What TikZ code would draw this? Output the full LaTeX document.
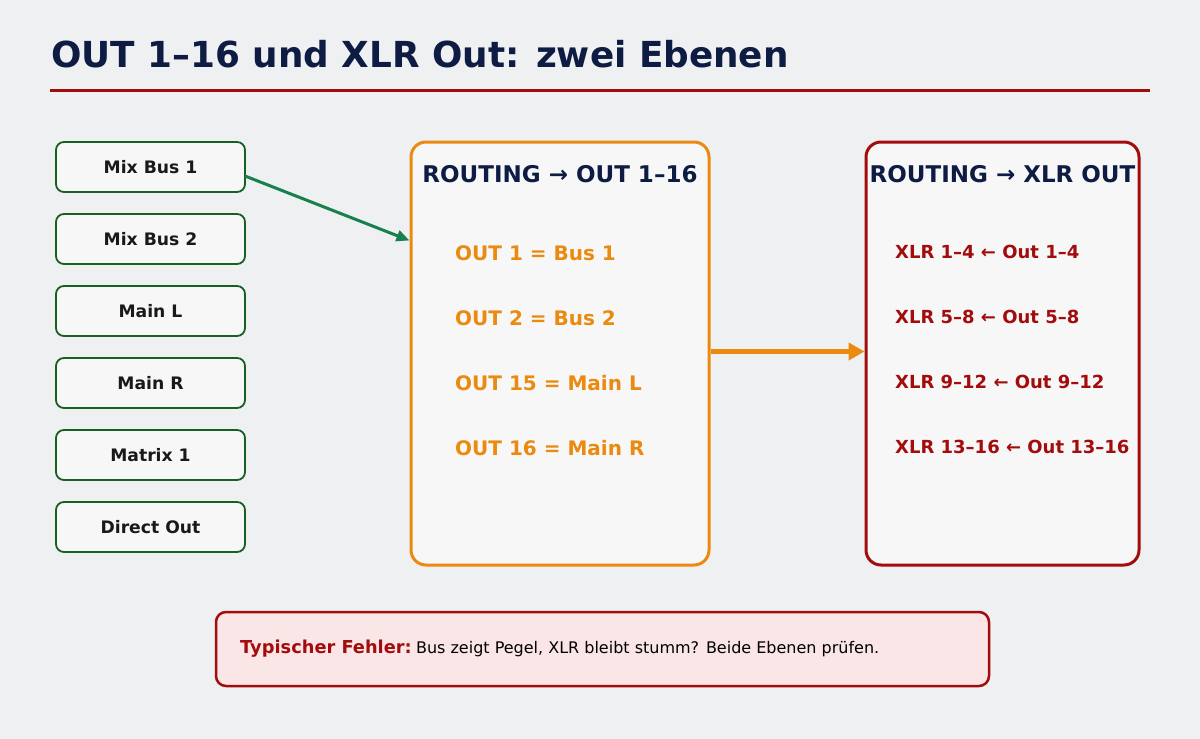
\documentclass[tikz,border=0pt]{standalone}
\usepackage{fontspec}
\setmainfont{DejaVu Sans}
\usetikzlibrary{arrows.meta,positioning}
\definecolor{pagebg}{RGB}{238,240,242}
\definecolor{titlenavy}{RGB}{14,28,68}
\definecolor{xlrred}{RGB}{163,12,12}
\definecolor{busgreen}{RGB}{22,96,34}
\definecolor{feedgreen}{RGB}{24,128,78}
\definecolor{routeorange}{RGB}{234,138,14}
\definecolor{panelfill}{RGB}{247,247,248}
\definecolor{warnfill}{RGB}{250,230,230}

\begin{document}
\begin{tikzpicture}[
  x=1pt,y=-1pt,
  node distance=22pt,
  busbox/.style={draw=busgreen,line width=1.8pt,fill=panelfill,rounded corners=8pt,
    minimum width=189pt,minimum height=50pt,inner sep=0pt,outer sep=0pt,
    font=\fontsize{17.2}{19}\bfseries,text=black!90},
  panel/.style={fill=panelfill,line width=3pt,rounded corners=15pt,
    minimum height=423pt,inner sep=0pt},
  head/.style={anchor=base,text=titlenavy,font=\fontsize{23}{26}\bfseries},
  outline/.style={anchor=west,inner sep=0pt,text=routeorange,font=\fontsize{20}{22}\bfseries},
  xlrline/.style={anchor=west,inner sep=0pt,text=xlrred,font=\fontsize{18}{20}\bfseries},
  feed/.style={-{Triangle[length=13pt,width=11pt]},draw=feedgreen,line width=3pt},
  pass/.style={-{Triangle[length=16pt,width=17pt]},draw=routeorange,line width=5pt}
]
  \fill[pagebg] (0,0) rectangle (1200,739);
  \useasboundingbox (0,0) rectangle (1200,739);

  \node[anchor=base west,inner sep=0pt,text=titlenavy,font=\fontsize{35.8}{40}\bfseries] (title) at (51,67) {OUT 1–16 und XLR Out: zwei Ebenen};
  \coordinate (rulel) at (50,90);
  \coordinate (ruler) at (1150,90);
  \draw[xlrred,line width=3pt] (rulel) -- (ruler);

  \node[busbox] (mb1) at (150.5,167) {Mix Bus 1};
  \node[busbox,below=of mb1] (mb2) {Mix Bus 2};
  \node[busbox,below=of mb2] (mainl) {Main L};
  \node[busbox,below=of mainl] (mainr) {Main R};
  \node[busbox,below=of mainr] (mtx) {Matrix 1};
  \node[busbox,below=of mtx] (direct) {Direct Out};

  \node[panel,draw=routeorange,minimum width=298pt] (route) at (560,353.5) {};
  \node[head] (routehd) at (560,182) {ROUTING → OUT 1–16};
  \node[outline] (o1) at (455,253) {OUT 1 = Bus 1};
  \node[outline] (o2) at (455,318) {OUT 2 = Bus 2};
  \node[outline] (o15) at (455,383) {OUT 15 = Main L};
  \node[outline] (o16) at (455,448) {OUT 16 = Main R};

  \node[panel,draw=xlrred,minimum width=273pt] (xlr) at (1002.5,353.5) {};
  \node[head] (xlrhd) at (1002.5,182) {ROUTING → XLR OUT};
  \node[xlrline] (x1) at (895,252) {XLR 1–4 ← Out 1–4};
  \node[xlrline] (x2) at (895,317) {XLR 5–8 ← Out 5–8};
  \node[xlrline] (x3) at (895,382) {XLR 9–12 ← Out 9–12};
  \node[xlrline] (x4) at (895,447) {XLR 13–16 ← Out 13–16};

  \draw[feed] ([yshift=-9pt]mb1.east) -- ([yshift=-100pt]route.north west);
  \draw[pass] ([yshift=2pt]route.east) -- ([yshift=2pt]xlr.west);

  \node[draw=xlrred,line width=2.5pt,fill=warnfill,rounded corners=10pt,
    minimum width=773pt,minimum height=74pt,inner sep=0pt] (hint) at (602.5,649) {};
  \node[anchor=base west,inner sep=0pt] (hinttxt) at (240,653)
    {{\fontsize{17.8}{20}\bfseries\color{xlrred}Typischer Fehler:} {\fontsize{16}{18}\selectfont Bus zeigt Pegel, XLR bleibt stumm? Beide Ebenen prüfen.}};
\end{tikzpicture}
\end{document}
